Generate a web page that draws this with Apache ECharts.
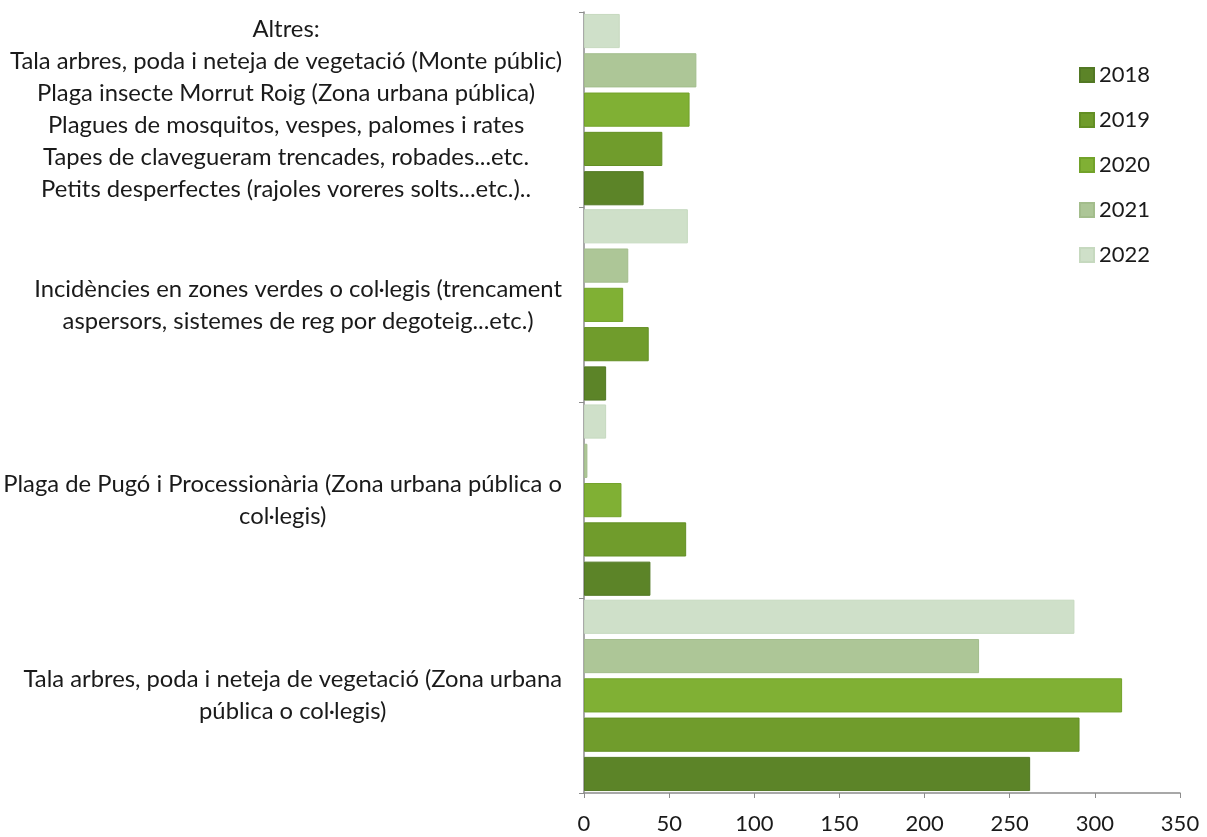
<!DOCTYPE html>
<html>
<head>
<meta charset="utf-8">
<script src="https://cdn.jsdelivr.net/npm/echarts@6/dist/echarts.min.js"></script>
<style>
html,body{margin:0;padding:0;background:#fff;}
#chart{width:1207px;height:837px;}
</style>
</head>
<body>
<div id="chart"></div>
<script>
// Categories (bottom to top)
var categories = [
  "Tala arbres, poda i neteja de vegetació (Zona urbana\npública o col·legis)",
  "Plaga de Pugó i Processionària (Zona urbana pública o\ncol·legis)",
  "Incidències en zones verdes o col·legis (trencament\naspersors, sistemes de reg por degoteig...etc.)",
  "Altres:\nTala arbres, poda i neteja de vegetació (Monte públic)\nPlaga insecte Morrut Roig (Zona urbana pública)\nPlagues de mosquitos, vespes, palomes i rates\nTapes de clavegueram trencades, robades...etc.\nPetits desperfectes (rajoles voreres solts...etc.).."
];
var years = ["2018", "2019", "2020", "2021", "2022"];
var values2018 = [262, 39, 13, 35];
var values2019 = [291, 60, 38, 46];
var values2020 = [316, 22, 23, 62];
var values2021 = [232, 2, 26, 66];
var values2022 = [288, 13, 61, 21];
var xTicks = [0, 50, 100, 150, 200, 250, 300, 350];

var seriesValues = [values2018, values2019, values2020, values2021, values2022];
var colors = ["#5c8428", "#709c2c", "#80b034", "#adc697", "#cfe0c9"];
var borders = ["#527824", "#638f24", "#72a22a", "#a3bd8c", "#c6d9bf"];

var FONT = "Lato";
var chart = echarts.init(document.getElementById('chart'));
var series = years.map(function (y, i) {
  return {
    name: y,
    type: 'bar',
    data: seriesValues[i],
    barCategoryGap: '2%',
    barGap: '15%',
    itemStyle: { color: colors[i], borderColor: borders[i], borderWidth: 1 },
    emphasis: { disabled: true }
  };
}).reverse(); // first series drawn at top of each band; 2018 must be at the bottom

chart.setOption({
  animation: false,
  backgroundColor: '#ffffff',
  grid: { left: 584, right: 27, top: 12, bottom: 44, containLabel: false },
  legend: {
    orient: 'vertical',
    left: 1074,
    top: 59,
    itemWidth: 14,
    itemHeight: 14,
    itemGap: 23,
    icon: 'rect',
    data: years,
    textStyle: { fontFamily: FONT, fontSize: 22, color: '#1a1a1a' }
  },
  xAxis: {
    type: 'value',
    min: 0,
    max: 350,
    interval: 50,
    splitLine: { show: false },
    axisLine: { show: true, lineStyle: { color: '#8c8c8c', width: 1.5 } },
    axisTick: { show: true, length: 5, lineStyle: { color: '#8c8c8c' } },
    axisLabel: {
      margin: 20,
      fontFamily: FONT,
      fontSize: 22,
      color: '#1a1a1a',
      formatter: function (v) { return xTicks.indexOf(v) >= 0 ? String(v) : ''; }
    }
  },
  yAxis: {
    type: 'category',
    data: categories,
    axisLine: { show: true, lineStyle: { color: '#8c8c8c', width: 1.5 } },
    axisTick: { show: true, length: 5, lineStyle: { color: '#8c8c8c' } },
    axisLabel: {
      margin: 22,
      align: 'right',
      formatter: function (v) {
        return v.split('\n').map(function (l) { return '{c|' + l + '}'; }).join('\n');
      },
      rich: {
        c: { align: 'center', fontFamily: FONT, fontSize: 23.8, lineHeight: 32, color: '#1a1a1a' }
      }
    }
  },
  series: series
});
</script>
</body>
</html>
